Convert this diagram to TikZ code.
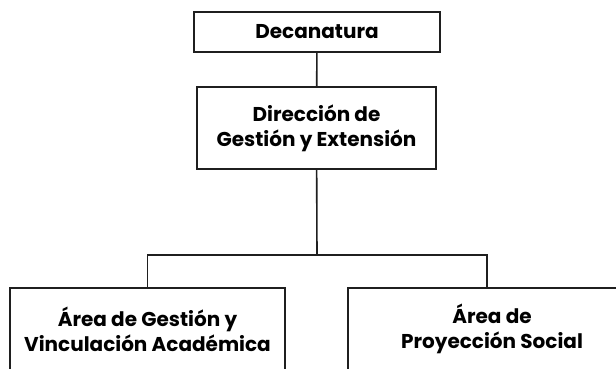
\documentclass[tikz,border=0pt]{standalone}
\usepackage{fontspec}
\setmainfont{Poppins}
\begin{document}
\begin{tikzpicture}[x=1pt,y=-1pt,
  orgbox/.style={draw=black!88, line width=1.6pt, fill=white, align=center,
    font=\fontsize{20}{25}\selectfont\bfseries, inner sep=0pt},
  conn/.style={draw=black!88, line width=1.6pt}]
\useasboundingbox (0,0) rectangle (616,368);
\node[orgbox, minimum width=246, minimum height=40] (dec) at (317,32) {Decanatura};
\node[orgbox, minimum width=239, minimum height=82] (dir) at (316.5,128) {Dirección de\\Gestión y Extensión};
\node[orgbox, minimum width=275, minimum height=82] (l) at (147.5,329) {Área de Gestión y\\Vinculación Académica};
\node[orgbox, minimum width=288, minimum height=82] (r) at (492,329) {Área de\\Proyección Social};
\coordinate (j) at (317,255);
\coordinate (rt) at (487,289);
\draw[conn] (dec) -- (dir);
\draw[conn] (dir) -- (j);
\draw[conn] (j) -| (l.north);
\draw[conn] (j) -| (rt);
\end{tikzpicture}
\end{document}
